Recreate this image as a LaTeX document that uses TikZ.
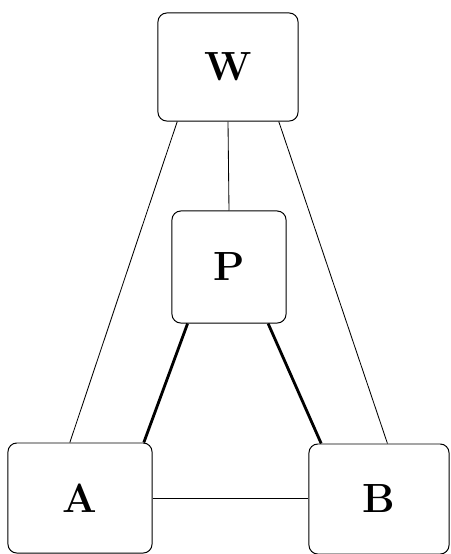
\documentclass[tikz,border=0pt]{standalone}
\usetikzlibrary{calc}

\begin{document}
\begin{tikzpicture}[x=0.025cm, y=-0.025cm]

      \useasboundingbox (0,0) rectangle (450,554);

      \begin{scope}[every node/.style={draw, rounded corners=0.22cm, line width=0.7pt,
          inner sep=0pt, font=\fontsize{29}{30}\selectfont\bfseries}]
        \node[minimum width=3.5cm,  minimum height=2.7cm]  (W) at (228,67)  {W};
        \node[minimum width=2.85cm, minimum height=2.8cm]  (P) at (229,267) {P};
        \node[minimum width=3.6cm,  minimum height=2.75cm] (A) at (80,498)  {A};
        \node[minimum width=3.5cm,  minimum height=2.75cm] (B) at (379,499) {B};
      \end{scope}

      \begin{scope}[line width=0.6pt]
        \draw ($(W.south west)!0.14!(W.south east)$) -- ($(A.north west)!0.43!(A.north east)$);
        \draw ($(W.south west)!0.86!(W.south east)$) -- ($(B.north west)!0.56!(B.north east)$);
        \draw (W.south) -- (P.north);
        \draw (A.east) -- (B.west |- A.east);
      \end{scope}

      \begin{scope}[line width=2pt]
        \draw ($(P.south west)!0.14!(P.south east)$) -- ($(A.north west)!0.94!(A.north east)$);
        \draw ($(P.south west)!0.84!(P.south east)$) -- ($(B.north west)!0.09!(B.north east)$);
      \end{scope}

    \end{tikzpicture}
\end{document}
